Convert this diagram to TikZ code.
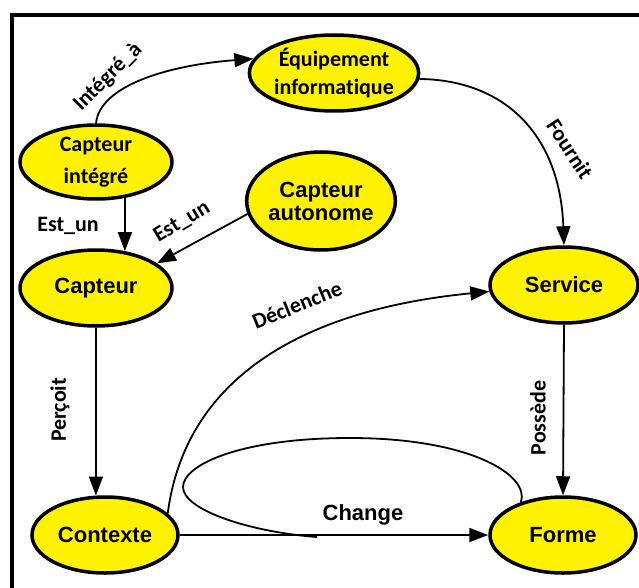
\documentclass[tikz,border=0pt]{standalone}
\usepackage{fontspec}
\setmainfont{Carlito}[Ligatures=NoCommon]
\newfontfamily\arialfont{Liberation Sans}
\usetikzlibrary{arrows.meta,shapes.geometric}

\begin{document}
\begin{tikzpicture}[
    x=1pt, y=-1pt,
    ell/.style={ellipse, draw, line width=3.5pt, fill=yellow,
                inner sep=0pt, align=center},
    cal/.style={font=\fontsize{22}{28}\selectfont\bfseries},
    ari/.style={font=\arialfont\fontsize{22}{23}\selectfont\bfseries},
    lbl/.style={font=\fontsize{22}{24}\selectfont\bfseries, inner sep=0pt},
    arr/.style={-{Triangle[length=19pt, width=14pt]}, line width=1.8pt}
]
\useasboundingbox (0,0) rectangle (639,588);

\draw[line width=4pt] (12,588) -- (12,15) -- (639,15);

\node[ell, cal, minimum width=150, minimum height=76] (equip) at (334,73)
    {Équipement\\informatique};
\node[ell, cal, minimum width=152, minimum height=74] (capint) at (96,162)
    {Capteur\\[4pt]intégré};
\node[ell, ari, minimum width=140, minimum height=98] (capauto) at (321,201)
    {Capteur\\autonome};
\node[ell, ari, minimum width=152, minimum height=76] (capteur) at (96,288)
    {Capteur};
\node[ell, ari, minimum width=148, minimum height=76] (service) at (564,285)
    {Service};
\node[ell, ari, minimum width=146, minimum height=76] (contexte) at (105,535)
    {Contexte};
\node[ell, ari, minimum width=146, minimum height=76] (forme) at (563,535)
    {Forme};

\coordinate (loopend) at (317,537);

\draw[arr] (capint.north) .. controls (100,85) and (170,65) .. (equip.170);
\draw[arr] (equip.-4) .. controls (505,80) and (560,135) .. (service.north);
\draw[arr] (capint.-51) -- (capteur.52);
\draw[arr] (capauto.190) -- (capteur.22);
\draw[arr] (capteur.south) -- (contexte.103);
\draw[arr] (contexte.19) .. controls (185,380) and (300,310) .. (service.185);
\draw[arr] (service.south) -- (forme.north);
\draw[arr] (contexte.east) -- (forme.west);
\draw[line width=1.8pt] (forme.142) .. controls (530,475) and (470,438) .. (350,438)
    .. controls (240,438) and (183,465) .. (183,487)
    .. controls (183,510) and (250,532) .. (loopend);

\node[lbl, rotate=45] (lint) at (108,77) {Intégré\_à};
\node[lbl, rotate=-57] (lfour) at (570,149) {Fournit};
\node[lbl] (lest1) at (68,226) {Est\_un};
\node[lbl, rotate=31] (lest2) at (182,222) {Est\_un};
\node[lbl, rotate=90] (lperc) at (60,410) {Perçoit};
\node[lbl, rotate=22] (ldecl) at (297,305) {Déclenche};
\node[lbl, rotate=90] (lposs) at (538,418) {Possède};
\node[lbl, font=\arialfont\fontsize{22}{24}\selectfont\bfseries] (lchange) at (363,515) {Change};

\end{tikzpicture}
\end{document}
